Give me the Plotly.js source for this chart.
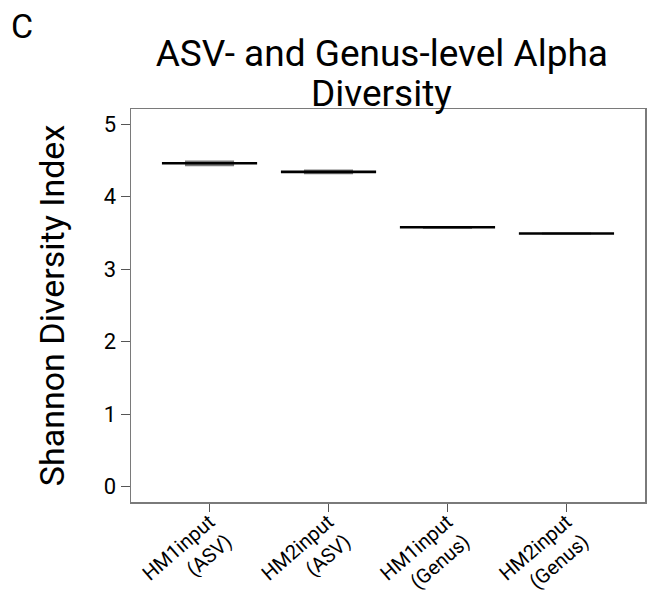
<!DOCTYPE html>
<html>
<head>
<meta charset="utf-8">
<script src="https://cdn.plot.ly/plotly-3.0.1.min.js"></script>
<style>html,body{margin:0;padding:0;background:#fff;}#chart{width:647px;height:596px;}</style>
</head>
<body>
<div id="chart"></div>
<script>
// Data
const categories = ["HM1input (ASV)", "HM2input (ASV)", "HM1input (Genus)", "HM2input (Genus)"];
const tickLabels = [
  "HM1input<br>&nbsp;&nbsp;&nbsp;&nbsp;&nbsp;&nbsp;&nbsp;(ASV)",
  "HM2input<br>&nbsp;&nbsp;&nbsp;&nbsp;&nbsp;&nbsp;&nbsp;(ASV)",
  "HM1input<br>&nbsp;&nbsp;&nbsp;(Genus)",
  "HM2input<br>&nbsp;&nbsp;&nbsp;(Genus)"
];
const titleLine1 = "ASV- and Genus-level Alpha";
const titleLine2 = "Diversity";
const lowerWhisker = [4.425, 4.315, 3.568, 3.490];
const q1Values     = [4.432, 4.320, 3.570, 3.491];
const medianValues = [4.460, 4.340, 3.578, 3.494];
const q3Values     = [4.490, 4.365, 3.582, 3.497];
const upperWhisker = [4.495, 4.370, 3.585, 3.498];
const meanValues   = [4.462, 4.343, 3.580, 3.494];
const yTicks = [0, 1, 2, 3, 4, 5];

const FONT = "Roboto, 'Noto Sans', Arial, sans-serif";

const boxTrace = {
  type: "box",
  x: categories,
  q1: q1Values,
  median: medianValues,
  q3: q3Values,
  lowerfence: lowerWhisker,
  upperfence: upperWhisker,
  width: 0.4,
  whiskerwidth: 0,
  fillcolor: "#8a8a8a",
  line: {color: "#7a7a7a", width: 1.5},
  hoverinfo: "skip",
  showlegend: false
};

const lineTrace = {
  type: "box",
  x: categories,
  q1: meanValues,
  median: meanValues,
  q3: meanValues,
  lowerfence: meanValues,
  upperfence: meanValues,
  width: 0.8,
  whiskerwidth: 0,
  fillcolor: "rgba(0,0,0,0)",
  line: {color: "#000000", width: 2.6},
  hoverinfo: "skip",
  showlegend: false
};

const layout = {
  width: 647,
  height: 596,
  paper_bgcolor: "#ffffff",
  plot_bgcolor: "#ffffff",
  margin: {l: 131, r: 2, t: 109, b: 94},
  boxmode: "overlay",
  font: {family: FONT, color: "#000"},
  title: {
    text: titleLine1,
    font: {family: FONT, size: 37, color: "#000"},
    x: 0.488, xanchor: "center", xref: "paper",
    y: 0.932, yanchor: "top", yref: "container"
  },
  xaxis: {
    type: "category",
    range: [-0.66, 3.66],
    tickvals: categories,
    ticktext: tickLabels,
    showgrid: false,
    zeroline: false,
    showline: true,
    mirror: true,
    linecolor: "#7a7a7a",
    linewidth: 1.5,
    ticks: "outside",
    ticklen: 8,
    tickcolor: "#555",
    tickwidth: 1.2,
    tickangle: -41,
    ticklabelstandoff: -9,
    tickfont: {family: FONT, size: 20, color: "#000"}
  },
  yaxis: {
    range: [-0.21, 5.21],
    tickvals: yTicks,
    ticktext: yTicks.map(String),
    showgrid: false,
    zeroline: false,
    showline: true,
    mirror: true,
    linecolor: "#7a7a7a",
    linewidth: 1.5,
    ticks: "outside",
    ticklen: 9,
    tickcolor: "#555",
    tickwidth: 1.2,
    tickfont: {family: FONT, size: 22, color: "#000"},
    title: {text: "Shannon Diversity Index", font: {family: FONT, size: 34, color: "#000"}, standoff: 29}
  },
  annotations: [
    {
      text: titleLine2,
      xref: "paper", yref: "paper",
      x: 0.488, y: 1.0,
      xanchor: "center", yanchor: "bottom",
      yshift: -8,
      showarrow: false,
      font: {family: FONT, size: 37, color: "#000"}
    },
    {
      text: "C",
      xref: "paper", yref: "paper",
      x: -0.238, y: 1.21,
      xanchor: "left", yanchor: "middle",
      showarrow: false,
      font: {family: FONT, size: 34, color: "#000"}
    }
  ]
};

Plotly.newPlot("chart", [boxTrace, lineTrace], layout, {displayModeBar: false, staticPlot: true});
</script>
</body>
</html>
